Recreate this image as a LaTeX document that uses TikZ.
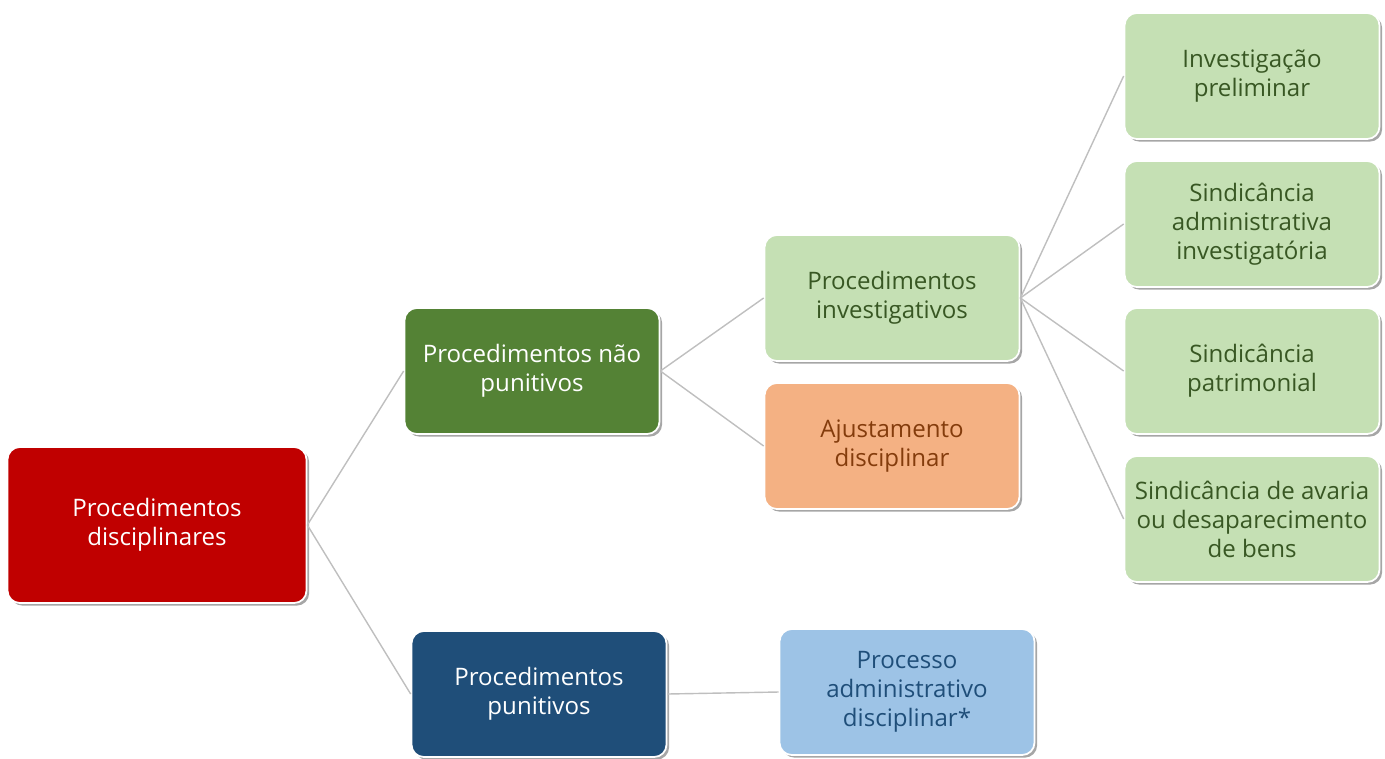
\documentclass[tikz,border=0pt]{standalone}
\usepackage{fontspec}
\setmainfont{Open Sans}
\usepackage{tikz}
\usetikzlibrary{shadows}

\definecolor{rootred}{HTML}{C00000}
\definecolor{darkgreen}{HTML}{548235}
\definecolor{darkblue}{HTML}{1F4E79}
\definecolor{lightgreen}{HTML}{C5E0B4}
\definecolor{lightorange}{HTML}{F4B183}
\definecolor{lightblue}{HTML}{9DC3E6}
\definecolor{greentext}{HTML}{385723}
\definecolor{browntext}{HTML}{843C0C}
\definecolor{linegray}{HTML}{BFBFBF}

\begin{document}
\begin{tikzpicture}[x=0.02cm, y=-0.02cm,
    font=\fontsize{13.7}{16.5}\selectfont,
    box/.style={rectangle, rounded corners=7pt, align=center, draw=white, line width=1pt,
      minimum width=5.1cm, minimum height=2.52cm, inner sep=2pt,
      drop shadow={shadow xshift=1.5pt, shadow yshift=-1.5pt, opacity=0.35, fill=black}},
    leaf/.style={box, fill=lightgreen, text=greentext},
    link/.style={draw=linegray, line width=0.8pt}]
  \useasboundingbox (0,0) rectangle (1385,758);

  % left column
  \node[box, fill=rootred, text=white, minimum width=5.98cm, minimum height=3.12cm] (root) at (157,525) {Procedimentos\\disciplinares};

  % middle column
  \node[box, fill=darkgreen, text=white] (naopun) at (532,371) {Procedimentos não\\punitivos};
  \node[box, fill=darkblue, text=white] (pun) at (539,694) {Procedimentos\\punitivos};

  \node[leaf] (invest) at (892,298) {Procedimentos\\investigativos};
  \node[box, fill=lightorange, text=browntext] (ajust) at (892,446) {Ajustamento\\disciplinar};
  \node[box, fill=lightblue, text=darkblue] (pad) at (907,692) {Processo\\administrativo\\disciplinar*};

  % right column
  \node[leaf] (l1) at (1252,76) {Investigação\\preliminar};
  \node[leaf] (l2) at (1252,224) {Sindicância\\administrativa\\investigatória};
  \node[leaf] (l3) at (1252,371) {Sindicância\\patrimonial};
  \node[leaf] (l4) at (1252,519) {Sindicância de avaria\\ou desaparecimento\\de bens};

  \begin{scope}[on background layer/.try]
  \draw[link] (root.east) -- (naopun.west);
  \draw[link] (root.east) -- (pun.west);
  \draw[link] (naopun.east) -- (invest.west);
  \draw[link] (naopun.east) -- (ajust.west);
  \draw[link] (pun.east) -- (pad.west);
  \foreach \k in {1,2,3,4} { \draw[link] (invest.east) -- (l\k.west); }
  \end{scope}
\end{tikzpicture}
\end{document}
